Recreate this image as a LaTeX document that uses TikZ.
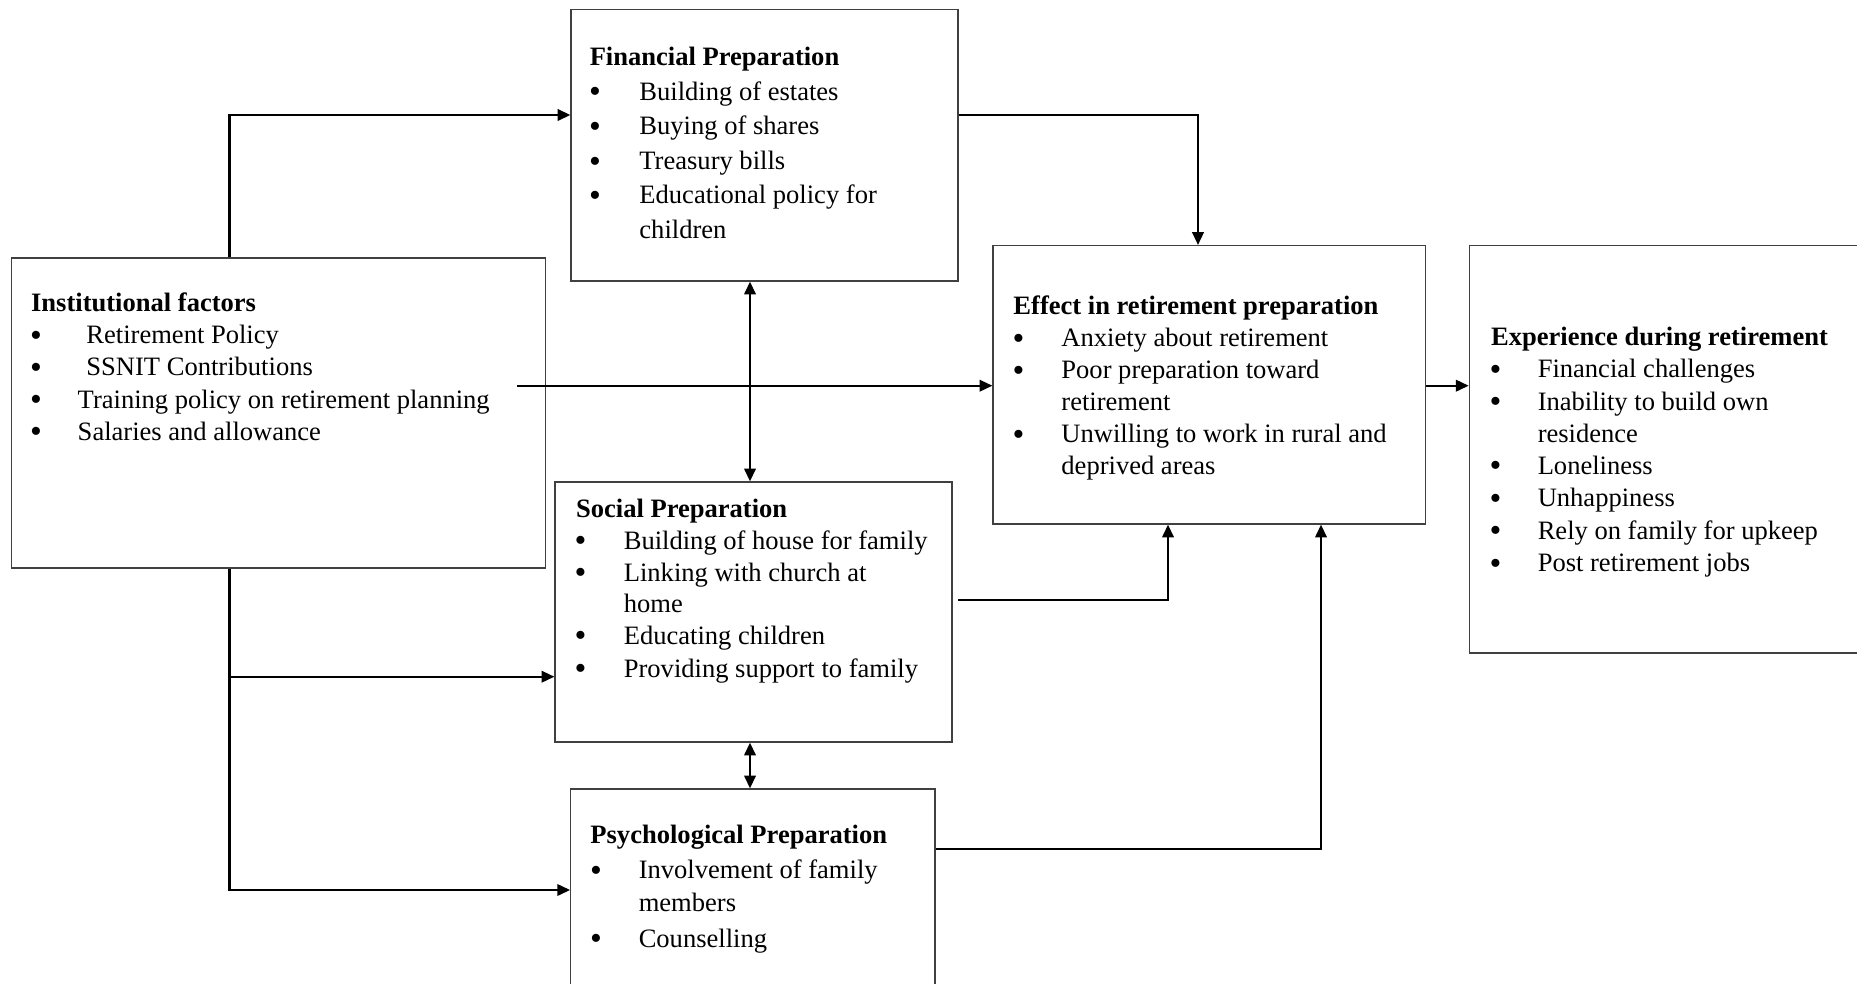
\documentclass[tikz,border=0pt]{standalone}
\usepackage{fontspec}
\setmainfont{Liberation Serif}
\usetikzlibrary{arrows.meta,fit}
\newcommand\bigbullet{\raisebox{-0.095em}{\scalebox{1.27}{\textbullet}}}
\begin{document}
\begin{tikzpicture}[x={(0.452pt,0)}, y={(0,-0.452pt)},
  box/.style={draw=black!75, line width=0.55pt, inner sep=0pt, rectangle},
  conn/.style={draw=black, line width=1pt, -{Triangle[length=5.8pt,width=5.2pt]}},
  dbl/.style={draw=black, line width=1pt, {Triangle[length=5.8pt,width=5.2pt]}-{Triangle[length=5.8pt,width=5.2pt]}},
  head/.style={anchor=base west, inner sep=0pt, font=\fontsize{12}{14}\selectfont\bfseries},
  itm/.style={anchor=base west, inner sep=0pt, font=\fontsize{12}{14}\selectfont},
  dot/.style={anchor=base, inner sep=0pt, font=\fontsize{12}{14}\selectfont}]

\useasboundingbox (0,0) rectangle (1857,984);
\clip (0,0) rectangle (1857,984);

% boxes
\node[box, fit={(11.7,258) (545.6,568)}] (inst) {};
\node[box, fit={(571,9.3) (958,281)}] (fin) {};
\node[box, fit={(555,482) (952,742)}] (soc) {};
\node[box, fit={(570.7,789) (935,1000)}] (psy) {};
\node[box, fit={(993,245.6) (1425.4,524)}] (eff) {};
\node[box, fit={(1469.3,245.6) (1880,653)}] (exp) {};

% Institutional factors
\node[head] (i0) at (30.7,311.5) {Institutional factors};
\node[dot] (ib1) at (36,343.5) {\bigbullet};
\node[itm] (i1) at (86,343.5) {Retirement Policy};
\node[dot] (ib2) at (36,375.5) {\bigbullet};
\node[itm] (i2) at (86,375.5) {SSNIT Contributions};
\node[dot] (ib3) at (36,408) {\bigbullet};
\node[itm] (i3) at (77.3,408) {Training policy on retirement planning};
\node[dot] (ib4) at (36,440) {\bigbullet};
\node[itm] (i4) at (77.3,440) {Salaries and allowance};

% Financial preparation
\node[head] (f0) at (589.3,66) {Financial Preparation};
\node[dot] (fb1) at (595,100.4) {\bigbullet};
\node[itm] (f1) at (639,100.4) {Building of estates};
\node[dot] (fb2) at (595,134.7) {\bigbullet};
\node[itm] (f2) at (639,134.7) {Buying of shares};
\node[dot] (fb3) at (595,169.5) {\bigbullet};
\node[itm] (f3) at (639,169.5) {Treasury bills};
\node[dot] (fb4) at (595,204) {\bigbullet};
\node[itm] (f4) at (639,204) {Educational policy for};
\node[itm] (f5) at (639,238.5) {children};

% Social preparation
\node[head] (s0) at (575.6,517) {Social Preparation};
\node[dot] (sb1) at (580.6,549) {\bigbullet};
\node[itm] (s1) at (623.4,549) {Building of house for family};
\node[dot] (sb2) at (580.6,581) {\bigbullet};
\node[itm] (s2) at (623.4,581) {Linking with church at};
\node[itm] (s3) at (623.4,612) {home};
\node[dot] (sb4) at (580.6,644) {\bigbullet};
\node[itm] (s4) at (623.4,644) {Educating children};
\node[dot] (sb5) at (580.6,677) {\bigbullet};
\node[itm] (s5) at (623.4,677) {Providing support to family};

% Psychological preparation
\node[head] (p0) at (590,843) {Psychological Preparation};
\node[dot] (pb1) at (596,878.5) {\bigbullet};
\node[itm] (p1) at (638.3,878.5) {Involvement of family};
\node[itm] (p2) at (638.3,911.5) {members};
\node[dot] (pb3) at (596,947) {\bigbullet};
\node[itm] (p3) at (638.3,947) {Counselling};

% Effect in retirement preparation
\node[head] (e0) at (1013,314.7) {Effect in retirement preparation};
\node[dot] (eb1) at (1018.5,346.7) {\bigbullet};
\node[itm] (e1) at (1061,346.7) {Anxiety about retirement};
\node[dot] (eb2) at (1018.5,378.7) {\bigbullet};
\node[itm] (e2) at (1061,378.7) {Poor preparation toward};
\node[itm] (e3) at (1061,410.7) {retirement};
\node[dot] (eb4) at (1018.5,442.6) {\bigbullet};
\node[itm] (e4) at (1061,442.6) {Unwilling to work in rural and};
\node[itm] (e5) at (1061,474.6) {deprived areas};

% Experience during retirement
\node[head] (x0) at (1490.7,345.5) {Experience during retirement};
\node[dot] (xb1) at (1495.5,377.5) {\bigbullet};
\node[itm] (x1) at (1537.3,377.5) {Financial challenges};
\node[dot] (xb2) at (1495.5,410) {\bigbullet};
\node[itm] (x2) at (1537.3,410) {Inability to build own};
\node[itm] (x3) at (1537.3,442) {residence};
\node[dot] (xb4) at (1495.5,474) {\bigbullet};
\node[itm] (x4) at (1537.3,474) {Loneliness};
\node[dot] (xb5) at (1495.5,506.5) {\bigbullet};
\node[itm] (x5) at (1537.3,506.5) {Unhappiness};
\node[dot] (xb6) at (1495.5,539) {\bigbullet};
\node[itm] (x6) at (1537.3,539) {Rely on family for upkeep};
\node[dot] (xb7) at (1495.5,571.5) {\bigbullet};
\node[itm] (x7) at (1537.3,571.5) {Post retirement jobs};

% routing points of the connectors
\coordinate (jA) at (229.6,115);
\coordinate (jB) at (1198,115);
\coordinate (jC) at (517,385.7);
\coordinate (jD) at (750,0);
\coordinate (jE) at (229.6,676.7);
\coordinate (jF) at (229.6,890);
\coordinate (jG) at (958,600);
\coordinate (jG2) at (1168,600);
\coordinate (jH) at (1321,849);

% connectors
\draw[conn] (inst.north -| jA) |- (fin.west |- jA);
\draw[conn] (fin.east |- jB) -| (eff.north -| jB);
\draw[conn] (jC) -- (eff.west |- jC);
\draw[conn] (eff.east |- jC) -- (exp.west |- jC);
\draw[dbl] (fin.south -| jD) -- (soc.north -| jD);
\draw[dbl] (soc.south -| jD) -- (psy.north -| jD);
\draw[conn] (inst.south -| jF) |- (psy.west |- jF);
\draw[conn] (jE) -- (soc.west |- jE);
\draw[conn] (jG) -| (eff.south -| jG2);
\draw[conn] (psy.east |- jH) -| (eff.south -| jH);
\end{tikzpicture}
\end{document}
